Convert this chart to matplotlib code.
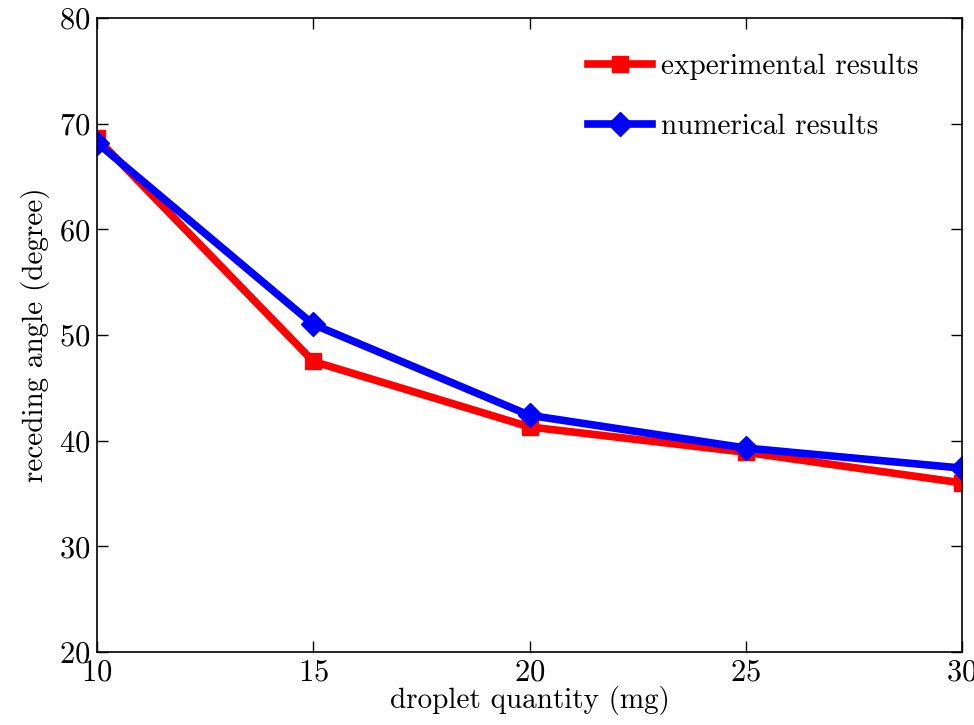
import matplotlib
matplotlib.use('Agg')
import matplotlib.pyplot as plt

plt.rcParams['font.family'] = 'serif'
plt.rcParams['font.serif'] = ['cmr10']
plt.rcParams['axes.formatter.use_mathtext'] = True

# droplet mass vs receding contact angle
quantity = [10, 15, 20, 25, 30]
angle_exp = [68.6, 47.5, 41.3, 38.9, 36.0]
angle_num = [68.2, 51.0, 42.4, 39.3, 37.4]

fig = plt.figure(figsize=(9.74, 7.25), dpi=100)
ax = fig.add_axes([0.0996, 0.1007, 0.8881, 0.8745])

ax.plot(quantity, angle_exp, color='red', lw=5.5, marker='s', ms=11.5,
        label='experimental results')
ax.plot(quantity, angle_num, color='blue', lw=5.5, marker='D', ms=12,
        label='numerical results')

ax.set_xlim(10, 30)
ax.set_ylim(20, 80)
ax.set_xticks([10, 15, 20, 25, 30])
ax.set_yticks([20, 30, 40, 50, 60, 70, 80])
ax.tick_params(direction='in', length=8, width=1, top=True, right=True,
               labelsize=22, pad=5)
for s in ax.spines.values():
    s.set_linewidth(1.2)

ax.set_xlabel('droplet quantity (mg)', fontsize=21, labelpad=0)
ax.set_ylabel('receding angle (degree)', fontsize=21, labelpad=6)

ax.legend(loc='upper right', bbox_to_anchor=(0.963, 0.962), borderaxespad=0,
          frameon=False, fontsize=21, handlelength=2.2,
          handletextpad=0.3, labelspacing=1.15)

fig.savefig('out.png', dpi=100)
